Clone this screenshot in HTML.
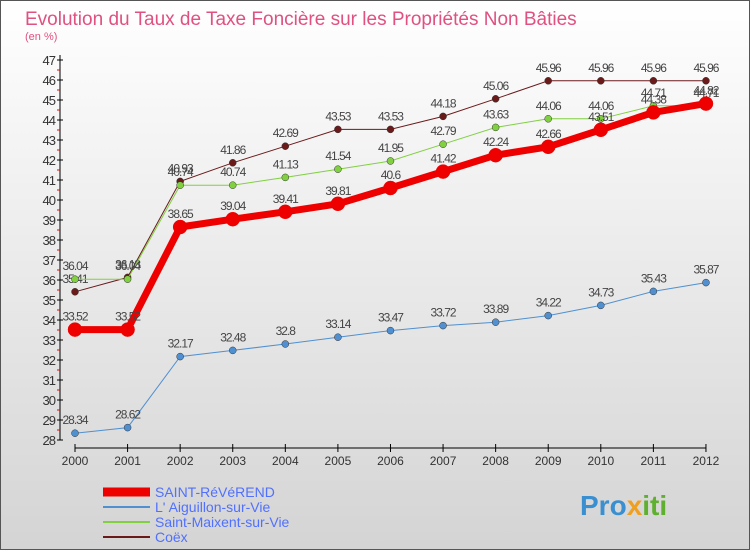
<!DOCTYPE html>
<html><head><meta charset="utf-8"><style>
body{margin:0;width:750px;height:550px;overflow:hidden;font-family:"Liberation Sans",sans-serif}
#c{position:absolute;left:0;top:0}
</style></head><body>
<svg id="c" width="750" height="550" xmlns="http://www.w3.org/2000/svg">
<defs><linearGradient id="bg" x1="0" y1="0" x2="0" y2="1"><stop offset="0" stop-color="#ffffff"/><stop offset="1" stop-color="#d4d4d4"/></linearGradient></defs>
<rect x="0.5" y="0.5" width="749" height="549" fill="url(#bg)" stroke="#555"/>
<text x="25" y="25" font-size="19" fill="#e05080">Evolution du Taux de Taxe Foncière sur les Propriétés Non Bâties</text>
<text x="25" y="40" font-size="11" fill="#e05080">(en %)</text>
<g id="axes"></g><g id="series"></g><g id="legend"></g>
<text x="580" y="515" font-size="28" font-weight="bold" fill="#3a8fd0">Pro<tspan fill="#f0a020">x</tspan><tspan fill="#60b030">iti</tspan></text>
</svg>
<script>
const years=[2000,2001,2002,2003,2004,2005,2006,2007,2008,2009,2010,2011,2012];
const yTicks=[28,29,30,31,32,33,34,35,36,37,38,39,40,41,42,43,44,45,46,47];
const stReverend=[33.52,33.52,38.65,39.04,39.41,39.81,40.6,41.42,42.24,42.66,43.51,44.38,44.82];
const aiguillon=[28.34,28.62,32.17,32.48,32.8,33.14,33.47,33.72,33.89,34.22,34.73,35.43,35.87];
const stMaixent=[36.04,36.04,40.74,40.74,41.13,41.54,41.95,42.79,43.63,44.06,44.06,44.71,44.71];
const coex=[35.41,36.13,40.93,41.86,42.69,43.53,43.53,44.18,45.06,45.96,45.96,45.96,45.96];
const NS="http://www.w3.org/2000/svg";
const xs=i=>75+i*52.58;
const ys=v=>440-(v-28)*20;
function mk(t,a,p){const e=document.createElementNS(NS,t);for(const k in a)e.setAttribute(k,a[k]);p.appendChild(e);return e;}
const ax=document.getElementById('axes');
let e=mk('line',{x1:60,y1:55,x2:60,y2:440,stroke:'#000'},ax);


yTicks.forEach(v=>{
 mk('line',{x1:57,x2:63,y1:ys(v),y2:ys(v),stroke:'#000'},ax);
 if(v<47)mk('line',{x1:57,x2:60,y1:ys(v+0.5),y2:ys(v+0.5),stroke:'#e00'},ax);
 const t=mk('text',{x:55,y:ys(v)+5,'font-size':13,'text-anchor':'end',fill:'#333','letter-spacing':'-1'},ax);t.textContent=v;
 
 
});
e=mk('line',{x1:75,y1:448,x2:xs(12),y2:448,stroke:'#000'},ax);


years.forEach((y,i)=>{
 mk('line',{x1:xs(i),x2:xs(i),y1:444,y2:452,stroke:'#000'},ax);
 const t=mk('text',{x:xs(i),y:465,'font-size':12,'text-anchor':'middle',fill:'#333'},ax);t.textContent=y;
 
 
});
const sg=document.getElementById('series');
const defs=[
 {d:coex,c:'#6b1a1a',w:1,r:3.5,n:'coex'},
 {d:stMaixent,c:'#80d040',w:1,r:3.5,n:'saint-maixent'},
 {d:aiguillon,c:'#5090d0',w:1,r:3.5,n:'aiguillon'},
 {d:stReverend,c:'#ee0000',w:7,r:7,n:'saint-reverend'}];
defs.forEach(s=>{
 const g=mk('g',{},sg);
 
 
 mk('polyline',{points:s.d.map((v,i)=>xs(i)+','+ys(v)).join(' '),fill:'none',stroke:s.c,'stroke-width':s.w},g);
 s.d.forEach((v,i)=>{
  const p=mk('circle',{cx:xs(i),cy:ys(v),r:s.r,fill:s.c,stroke:s.w>1?'#e00':'#333','stroke-width':0.5},g);
  
  
  const t=mk('text',{x:xs(i),y:ys(v)-9,'font-size':12,'text-anchor':'middle',fill:'#444','letter-spacing':'-1'},g);t.textContent=v;
  
  
 });
});
const lg=document.getElementById('legend');
const leg=[['SAINT-RéVéREND','#ee0000',9],["L' Aiguillon-sur-Vie",'#5090d0',2],['Saint-Maixent-sur-Vie','#80d040',2],['Coëx','#6b1a1a',2]];
leg.forEach((l,i)=>{
 const y=492+i*15;
 const g=mk('g',{},lg);
 
 
 mk('line',{x1:103,x2:150,y1:y,y2:y,stroke:l[1],'stroke-width':l[2]},g);
 const t=mk('text',{x:155,y:y+5,'font-size':14,fill:'#5070ff'},g);t.textContent=l[0];
});
</script>
</body></html>
